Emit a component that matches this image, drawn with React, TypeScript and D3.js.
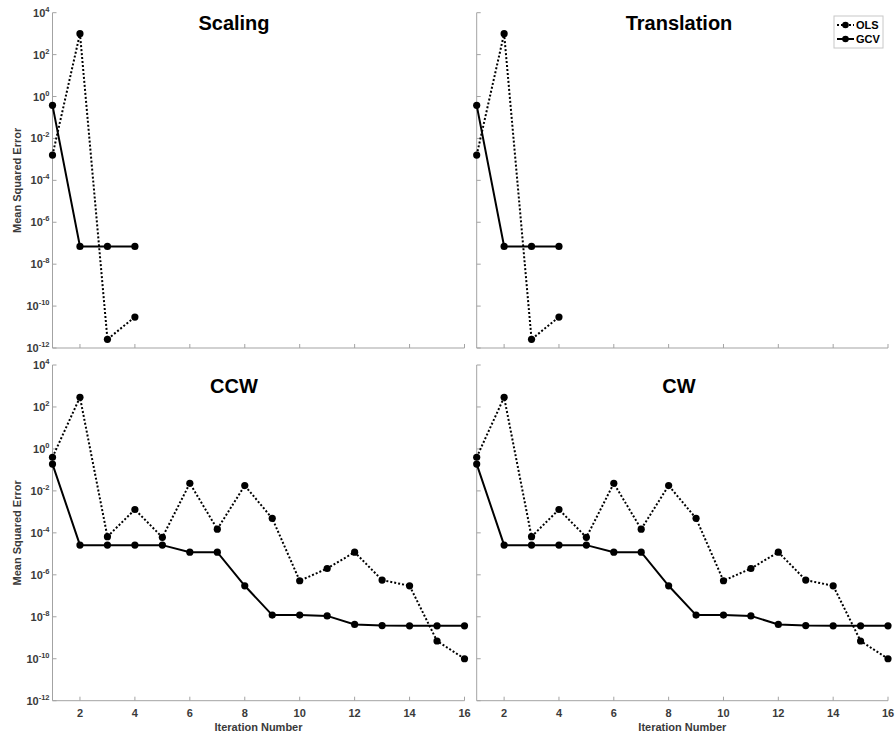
import React from 'react';
import * as d3 from 'd3';

// Iteration indices
const iterShort = [1, 2, 3, 4];
const iterLong = [1, 2, 3, 4, 5, 6, 7, 8, 9, 10, 11, 12, 13, 14, 15, 16];

// Mean squared error per iteration
const scalingOLS = [1.6e-3, 1e3, 2.6e-12, 3e-11];
const scalingGCV = [0.38, 7e-8, 7e-8, 7e-8];
const translationOLS = [1.6e-3, 1e3, 2.6e-12, 3e-11];
const translationGCV = [0.38, 7e-8, 7e-8, 7e-8];
const ccwOLS = [0.4, 290, 6.6e-5, 1.3e-3, 6.1e-5, 0.023, 1.5e-4, 0.018, 4.9e-4, 5.2e-7, 2e-6, 1.2e-5, 5.6e-7, 3e-7, 7e-10, 1e-10];
const ccwGCV = [0.19, 2.6e-5, 2.6e-5, 2.6e-5, 2.6e-5, 1.2e-5, 1.2e-5, 3e-7, 1.2e-8, 1.2e-8, 1.1e-8, 4.3e-9, 3.8e-9, 3.7e-9, 3.7e-9, 3.7e-9];
const cwOLS = [0.4, 290, 6.6e-5, 1.3e-3, 6.1e-5, 0.023, 1.5e-4, 0.018, 4.9e-4, 5.2e-7, 2e-6, 1.2e-5, 5.6e-7, 3e-7, 7e-10, 1e-10];
const cwGCV = [0.19, 2.6e-5, 2.6e-5, 2.6e-5, 2.6e-5, 1.2e-5, 1.2e-5, 3e-7, 1.2e-8, 1.2e-8, 1.1e-8, 4.3e-9, 3.8e-9, 3.7e-9, 3.7e-9, 3.7e-9];

// Axis ticks
const xTicks = [2, 4, 6, 8, 10, 12, 14, 16];
const yExponents = [4, 2, 0, -2, -4, -6, -8, -10, -12];

const seriesNames = ['OLS', 'GCV'];
const titles = ['Scaling', 'Translation', 'CCW', 'CW'];

const AXIS = '#a3a3a3';
const TICKTEXT = '#3a3a3a';
const FONT = 'Liberation Sans, Arial, Helvetica, sans-serif';

type PanelProps = {
  title: string;
  titleX: number;
  titleY: number;
  x0: number;
  x1: number;
  yTop: number;
  yBot: number;
  iters: number[];
  ols: number[];
  gcv: number[];
  yLabels: boolean;
  xLabels: boolean;
};

const Marker = ({ x, y }: { x: number; y: number }) => (
  <circle cx={x} cy={y} r={3.6} fill="#000" />
);

const Panel = (p: PanelProps) => {
  const xs = d3.scaleLinear().domain([1, 16]).range([p.x0, p.x1]);
  const ys = d3.scaleLog().domain([1e-12, 1e4]).range([p.yBot, p.yTop]);
  const line = d3
    .line<number>()
    .x((_, i) => xs(p.iters[i]))
    .y((d) => ys(d));

  return (
    <g>
      {/* axes */}
      <line x1={p.x0} x2={p.x0} y1={p.yTop} y2={p.yBot} stroke={AXIS} strokeWidth={1} />
      <line x1={p.x0} x2={p.x1} y1={p.yBot} y2={p.yBot} stroke={AXIS} strokeWidth={1} />
      {yExponents.map((e) => {
        const y = ys(Math.pow(10, e));
        return (
          <g key={'y' + e}>
            <line x1={p.x0} x2={p.x0 + 4} y1={y} y2={y} stroke={AXIS} />
            {p.yLabels && (
              <text
                x={p.x0 - 3}
                y={y + 4}
                textAnchor="end"
                fontFamily={FONT}
                fontWeight="bold"
                fontSize={11}
                fill={TICKTEXT}
              >
                <tspan>10</tspan>
                <tspan dy={-5} fontSize={7.5}>{String(e)}</tspan>
              </text>
            )}
          </g>
        );
      })}
      {xTicks.map((t) => {
        const x = xs(t);
        return (
          <g key={'x' + t}>
            <line x1={x} x2={x} y1={p.yBot} y2={p.yBot - 4} stroke={AXIS} />
            {p.xLabels && (
              <text
                x={x}
                y={p.yBot + 16}
                textAnchor="middle"
                fontFamily={FONT}
                fontWeight="bold"
                fontSize={11}
                fill={TICKTEXT}
              >
                {t}
              </text>
            )}
          </g>
        );
      })}
      {p.xLabels && (
        <text
          x={(p.x0 + p.x1) / 2}
          y={p.yBot + 30}
          textAnchor="middle"
          fontFamily={FONT}
          fontWeight="bold"
          fontSize={11}
          fill={TICKTEXT}
        >
          Iteration Number
        </text>
      )}
      {p.yLabels && (
        <text
          transform={`translate(21,${(p.yTop + p.yBot) / 2}) rotate(-90)`}
          textAnchor="middle"
          fontFamily={FONT}
          fontWeight="bold"
          fontSize={11}
          fill={TICKTEXT}
        >
          Mean Squared Error
        </text>
      )}

      {/* OLS: dotted */}
      <path d={line(p.ols) ?? ''} fill="none" stroke="#000" strokeWidth={2} strokeDasharray="2 2" />
      {p.ols.map((v, i) => (
        <Marker key={'o' + i} x={xs(p.iters[i])} y={ys(v)} />
      ))}
      {/* GCV: solid */}
      <path d={line(p.gcv) ?? ''} fill="none" stroke="#000" strokeWidth={2} />
      {p.gcv.map((v, i) => (
        <Marker key={'g' + i} x={xs(p.iters[i])} y={ys(v)} />
      ))}

      <text
        x={p.titleX}
        y={p.titleY}
        textAnchor="middle"
        fontFamily={FONT}
        fontWeight="bold"
        fontSize={20}
        fill="#000"
      >
        {p.title}
      </text>
    </g>
  );
};

export default function App() {
  const leftX = [52.5, 464.5];
  const rightX = [476.7, 888];
  const topY = [12.7, 348];
  const botY = [365, 700.7];

  return (
    <svg
      width={895}
      height={736}
      style={{ position: 'absolute', left: 0, top: 0, background: '#fff' }}
    >
      <rect width={895} height={736} fill="#fff" />
      <Panel title={titles[0]} titleX={234} titleY={30} x0={leftX[0]} x1={leftX[1]} yTop={topY[0]} yBot={topY[1]}
        iters={iterShort} ols={scalingOLS} gcv={scalingGCV} yLabels={true} xLabels={false} />
      <Panel title={titles[1]} titleX={679} titleY={30} x0={rightX[0]} x1={rightX[1]} yTop={topY[0]} yBot={topY[1]}
        iters={iterShort} ols={translationOLS} gcv={translationGCV} yLabels={false} xLabels={false} />
      <Panel title={titles[2]} titleX={234} titleY={393} x0={leftX[0]} x1={leftX[1]} yTop={botY[0]} yBot={botY[1]}
        iters={iterLong} ols={ccwOLS} gcv={ccwGCV} yLabels={true} xLabels={true} />
      <Panel title={titles[3]} titleX={679} titleY={393} x0={rightX[0]} x1={rightX[1]} yTop={botY[0]} yBot={botY[1]}
        iters={iterLong} ols={cwOLS} gcv={cwGCV} yLabels={false} xLabels={true} />

      {/* legend */}
      <g>
        <rect x={834} y={16} width={49} height={32} fill="#fff" stroke="#c8c8c8" strokeWidth={1} />
        {seriesNames.map((name, i) => {
          const y = 25 + i * 14;
          return (
            <g key={name}>
              <line x1={837} x2={854} y1={y} y2={y} stroke="#000" strokeWidth={2}
                strokeDasharray={i === 0 ? '2 2' : undefined} />
              <circle cx={845.5} cy={y} r={3.3} fill="#000" />
              <text x={856} y={y + 4} fontFamily={FONT} fontWeight="bold" fontSize={11} fill="#000">
                {name}
              </text>
            </g>
          );
        })}
      </g>
    </svg>
  );
}
